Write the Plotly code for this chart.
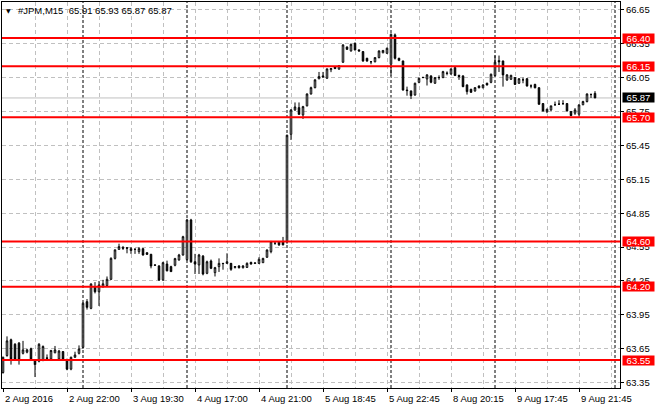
import plotly.graph_objects as go

# ---------------- data (M15 bars) ----------------
opens = [63.44, 63.59, 63.73, 63.69, 63.70, 63.61, 63.62, 63.65, 63.55, 63.54,
         63.55, 63.57, 63.56, 63.615, 63.56, 63.625, 63.557, 63.47, 63.575, 63.61,
         63.663, 64.067, 64.008, 64.20, 64.155, 64.20, 64.21, 64.265, 64.45, 64.53,
         64.545, 64.545, 64.52, 64.53, 64.51, 64.536, 64.50, 64.486, 64.392, 64.383,
         64.26, 64.40, 64.377, 64.389, 64.436, 64.48, 64.44, 64.79, 64.42, 64.392,
         64.47, 64.318, 64.427, 64.324, 64.377, 64.406, 64.406, 64.406, 64.37, 64.383,
         64.368, 64.37, 64.415, 64.406, 64.406, 64.412, 64.46, 64.51, 64.585, 64.598,
         64.598, 64.60, 65.548, 65.764, 65.784, 65.72, 65.80, 65.905, 65.961, 66.04,
         66.065, 66.044, 66.12, 66.144, 66.125, 66.186, 66.321, 66.286, 66.354, 66.295,
         66.28, 66.221, 66.19, 66.19, 66.227, 66.27, 66.265, 66.168, 66.428, 66.221,
         66.197, 65.94, 65.932, 65.896, 66.008, 66.05, 66.038, 66.065, 66.0, 66.05,
         66.05, 66.09, 66.082, 66.138, 66.07, 66.065, 65.985, 65.947, 65.932, 65.976,
         65.96, 66.0, 66.008, 66.068, 66.20, 66.197, 66.03, 66.035, 66.05, 66.0,
         66.03, 66.04, 65.976, 65.99, 65.96, 65.82, 65.748, 65.764, 65.81, 65.815,
         65.82, 65.82, 65.749, 65.735, 65.726, 65.81, 65.838, 65.90, 65.91]
highs = [63.58, 63.76, 63.74, 63.70, 63.71, 63.72, 63.65, 63.66, 63.55, 63.70,
         63.68, 63.60, 63.64, 63.675, 63.64, 63.63, 63.56, 63.58, 63.624, 63.68,
         64.06, 64.09, 64.23, 64.24, 64.25, 64.26, 64.29, 64.46, 64.53, 64.58,
         64.56, 64.55, 64.55, 64.54, 64.55, 64.54, 64.505, 64.49, 64.395, 64.39,
         64.42, 64.43, 64.385, 64.455, 64.49, 64.65, 64.80, 64.80, 64.49, 64.49,
         64.48, 64.43, 64.44, 64.375, 64.45, 64.41, 64.495, 64.41, 64.38, 64.39,
         64.39, 64.415, 64.42, 64.41, 64.46, 64.455, 64.53, 64.605, 64.59, 64.60,
         64.64, 65.545, 65.77, 65.83, 65.83, 65.80, 65.91, 65.97, 66.035, 66.10,
         66.10, 66.13, 66.135, 66.15, 66.16, 66.345, 66.325, 66.35, 66.36, 66.30,
         66.285, 66.225, 66.195, 66.23, 66.29, 66.295, 66.315, 66.44, 66.44, 66.225,
         66.20, 65.97, 65.935, 66.005, 66.05, 66.055, 66.08, 66.07, 66.055, 66.07,
         66.11, 66.105, 66.13, 66.145, 66.075, 66.07, 65.99, 65.95, 65.965, 65.98,
         65.99, 66.005, 66.085, 66.245, 66.245, 66.20, 66.08, 66.075, 66.055, 66.045,
         66.05, 66.045, 65.99, 65.995, 65.965, 65.825, 65.775, 65.80, 65.838, 65.85,
         65.85, 65.825, 65.755, 65.78, 65.815, 65.845, 65.91, 65.91, 65.93]
lows = [63.43, 63.58, 63.51, 63.55, 63.51, 63.60, 63.61, 63.55, 63.40, 63.53,
        63.54, 63.55, 63.55, 63.61, 63.55, 63.55, 63.46, 63.46, 63.57, 63.60,
        63.65, 63.997, 64.0, 64.14, 64.029, 64.19, 64.205, 64.26, 64.44, 64.525,
        64.525, 64.495, 64.49, 64.49, 64.49, 64.475, 64.48, 64.362, 64.385, 64.25,
        64.25, 64.335, 64.33, 64.38, 64.43, 64.475, 64.43, 64.41, 64.312, 64.312,
        64.30, 64.31, 64.355, 64.29, 64.33, 64.35, 64.40, 64.34, 64.36, 64.36,
        64.36, 64.365, 64.395, 64.40, 64.40, 64.41, 64.455, 64.495, 64.57, 64.56,
        64.565, 64.58, 65.498, 65.755, 65.72, 65.684, 65.795, 65.90, 65.955, 66.035,
        66.05, 66.04, 66.098, 66.125, 66.12, 66.18, 66.295, 66.28, 66.29, 66.28,
        66.19, 66.19, 66.168, 66.185, 66.22, 66.265, 66.26, 66.068, 66.21, 66.195,
        65.935, 65.89, 65.86, 65.89, 66.0, 66.045, 65.98, 66.0, 65.995, 66.03,
        66.045, 66.07, 66.075, 66.065, 66.03, 65.965, 65.90, 65.915, 65.925, 65.955,
        65.955, 65.98, 66.0, 66.06, 66.10, 65.97, 66.02, 66.03, 65.985, 65.995,
        66.0, 65.97, 65.955, 65.955, 65.81, 65.75, 65.735, 65.755, 65.80, 65.81,
        65.808, 65.75, 65.71, 65.72, 65.705, 65.805, 65.83, 65.87, 65.87]
closes = [63.575, 63.72, 63.56, 63.56, 63.55, 63.64, 63.64, 63.56, 63.51, 63.69,
          63.67, 63.565, 63.635, 63.64, 63.63, 63.56, 63.47, 63.575, 63.595, 63.648,
          64.053, 64.017, 64.223, 64.155, 64.215, 64.225, 64.265, 64.45, 64.525, 64.554,
          64.54, 64.54, 64.536, 64.53, 64.536, 64.48, 64.486, 64.383, 64.39, 64.259,
          64.412, 64.34, 64.333, 64.448, 64.48, 64.642, 64.79, 64.42, 64.40, 64.48,
          64.312, 64.42, 64.362, 64.368, 64.406, 64.404, 64.42, 64.353, 64.377, 64.368,
          64.383, 64.406, 64.40, 64.41, 64.442, 64.45, 64.524, 64.598, 64.585, 64.57,
          64.57, 65.54, 65.764, 65.79, 65.725, 65.793, 65.905, 65.961, 66.03, 66.06,
          66.055, 66.127, 66.13, 66.13, 66.156, 66.339, 66.30, 66.345, 66.295, 66.286,
          66.197, 66.197, 66.19, 66.227, 66.286, 66.29, 66.31, 66.433, 66.221, 66.203,
          65.94, 65.935, 65.89, 66.0, 66.044, 66.052, 66.074, 66.009, 66.05, 66.05,
          66.103, 66.088, 66.127, 66.068, 66.06, 65.97, 65.926, 65.92, 65.961, 65.96,
          65.985, 65.985, 66.08, 66.186, 66.19, 66.074, 66.074, 66.07, 65.99, 66.04,
          66.03, 65.976, 65.976, 65.96, 65.814, 65.755, 65.77, 65.80, 65.81, 65.815,
          65.82, 65.755, 65.714, 65.764, 65.808, 65.838, 65.905, 65.90, 65.87]

tick_bars = [0, 16, 32, 48, 64, 80, 96, 112, 128, 144]
tick_labels = ["2 Aug 2016", "2 Aug 22:00", "3 Aug 19:30", "4 Aug 17:00", "4 Aug 21:00",
               "5 Aug 18:45", "5 Aug 22:45", "8 Aug 20:15", "9 Aug 17:45", "9 Aug 21:45"]
day_separators = [20, 46, 71, 97, 123, 153]
price_ticks = [63.35, 63.65, 63.95, 64.25, 64.55, 64.85, 65.15, 65.45, 65.75, 66.05, 66.35, 66.65]
level_lines = [66.40, 66.15, 65.70, 64.60, 64.20, 63.55]
last_price = 65.87
header_text = "#JPM,M15  65.91 65.93 65.87 65.87"

FONT = "Liberation Sans"
FS = 9.5
GRID = "#c0c0c0"
bars = list(range(len(opens)))

fig = go.Figure(go.Candlestick(
    x=bars, open=opens, high=highs, low=lows, close=closes,
    increasing=dict(line=dict(color="black", width=1), fillcolor="white"),
    decreasing=dict(line=dict(color="black", width=1), fillcolor="black"),
    whiskerwidth=0, showlegend=False, hoverinfo="skip"))

shapes = []
for d in day_separators:
    shapes.append(dict(type="line", xref="x", yref="paper", x0=d, x1=d, y0=0, y1=1,
                       line=dict(color="black", width=1, dash="3px,2px"), layer="between"))
shapes.append(dict(type="line", xref="paper", yref="y", x0=0, x1=1, y0=last_price, y1=last_price,
                   line=dict(color=GRID, width=1), layer="between"))
for lv in level_lines:
    shapes.append(dict(type="line", xref="paper", yref="y", x0=0, x1=1, y0=lv, y1=lv,
                       line=dict(color="#ff0000", width=2), layer="above"))

annotations = []
for b, lab in zip(tick_bars, tick_labels):
    annotations.append(dict(x=b, xref="x", y=0, yref="paper", yanchor="top", yshift=-3,
                            xanchor="left", text=lab, showarrow=False,
                            font=dict(family=FONT, size=FS, color="black")))
for lv in level_lines:
    annotations.append(dict(x=1, xref="paper", y=lv, yref="y", xanchor="left", yanchor="middle",
                            xshift=1.5, text=f"{lv:.2f}", showarrow=False, bgcolor="#ff0000",
                            width=31, height=9, borderpad=0, align="center",
                            font=dict(family=FONT, size=FS, color="white")))
annotations.append(dict(x=1, xref="paper", y=last_price, yref="y", xanchor="left", yanchor="middle",
                        xshift=1.5, text=f"{last_price:.2f}", showarrow=False, bgcolor="black",
                        width=31, height=9, borderpad=0, align="center",
                        font=dict(family=FONT, size=FS, color="white")))
annotations.append(dict(x=0, xref="paper", y=1, yref="paper", xanchor="left", yanchor="middle",
                        xshift=2, yshift=-8, text="▼", showarrow=False,
                        font=dict(family="DejaVu Sans", size=6, color="black")))
annotations.append(dict(x=0, xref="paper", y=1, yref="paper", xanchor="left", yanchor="middle",
                        xshift=14, yshift=-8, text=header_text, showarrow=False,
                        font=dict(family=FONT, size=FS, color="black")))

fig.update_layout(
    width=660, height=410,
    margin=dict(l=2, r=40, t=2, b=22, pad=0),
    paper_bgcolor="white", plot_bgcolor="white",
    font=dict(family=FONT, size=FS, color="black"),
    boxgap=0.45,
    shapes=shapes, annotations=annotations,
    xaxis=dict(range=[-0.25, 154.25], tickmode="array", tickvals=tick_bars,
               showticklabels=False, ticks="outside", ticklen=3, tickcolor="black",
               showgrid=True, gridcolor=GRID, griddash="4px,3px", gridwidth=1,
               minor=dict(tickmode="array", tickvals=list(range(0, 160, 8)), showgrid=True,
                          gridcolor=GRID, griddash="4px,3px", ticks=""),
               showline=True, linecolor="black", linewidth=1, mirror=True,
               zeroline=False, rangeslider=dict(visible=False), fixedrange=True),
    yaxis=dict(side="right", range=[63.303, 66.719], tickmode="array", tickvals=price_ticks,
               ticktext=[f"{v:.2f}" for v in price_ticks],
               ticks="outside", ticklen=3, tickcolor="black",
               showgrid=True, gridcolor=GRID, griddash="4px,3px", gridwidth=1,
               showline=True, linecolor="black", linewidth=1, mirror=True,
               zeroline=False, fixedrange=True),
)

fig.write_html("out.html", config={"displayModeBar": False},
               post_script="document.body.style.margin='0px';")
